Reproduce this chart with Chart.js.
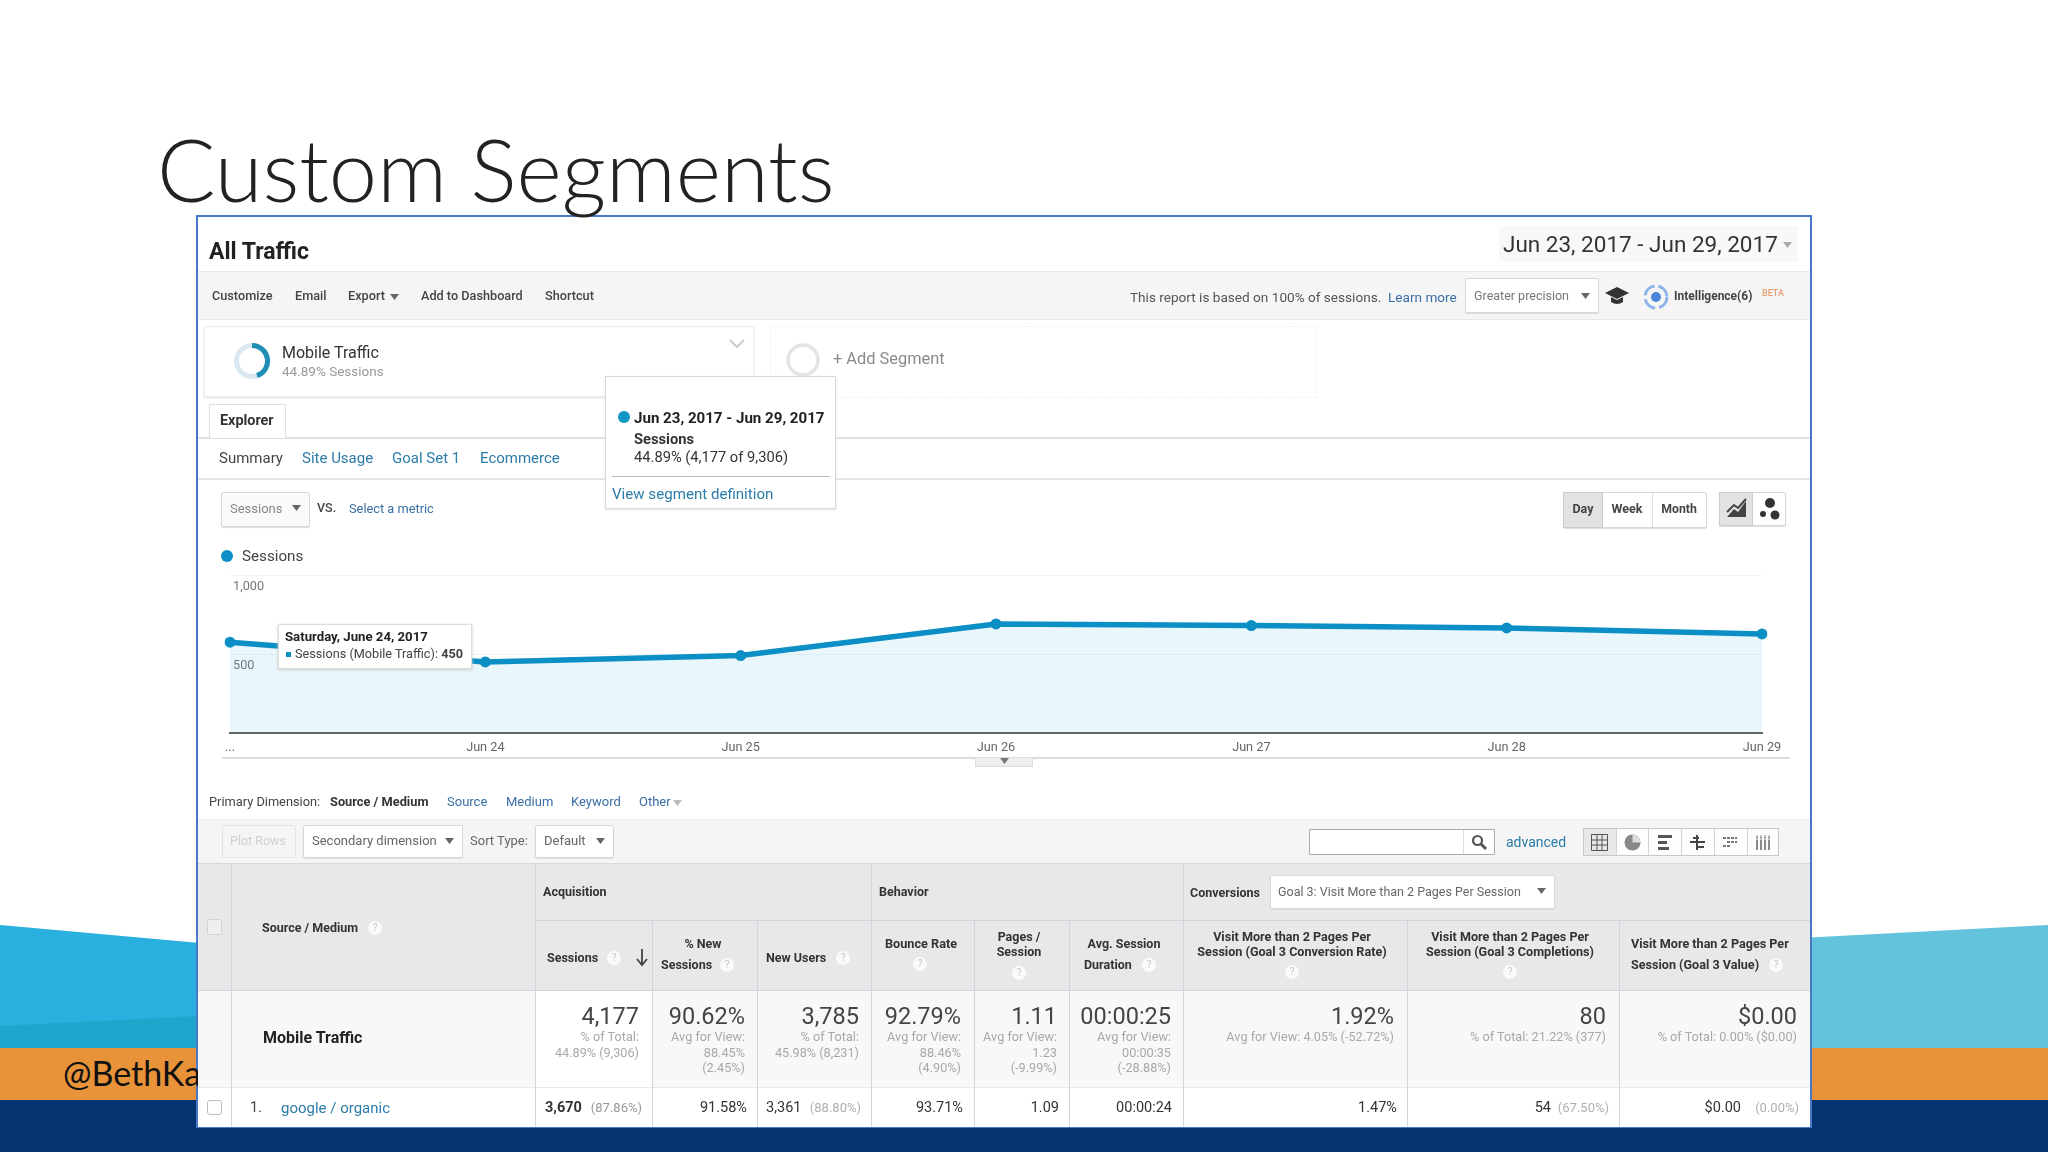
<!DOCTYPE html>
<html>
<head>
<meta charset="utf-8">
<script src="https://cdn.jsdelivr.net/npm/chart.js@4"></script>
<style>
  html, body { margin: 0; padding: 0; background: #fff; }
  #slide { position: absolute; left: 0; top: 0; width: 2048px; height: 1152px; overflow: hidden; background: #fff; font-family: Roboto, sans-serif; }
  #slide > svg.bg { position: absolute; left: 0; top: 0; }
  .t { position: absolute; white-space: nowrap; line-height: 20px; height: 20px; color: #333; }
  .box { position: absolute; box-sizing: border-box; }
  .ico { position: absolute; overflow: visible; }
  #overlay > * { filter: blur(0.4px); }
  #trafficCanvas { position: absolute; left: 198px; top: 560px; width: 1612px; height: 200px; filter: blur(0.4px); }
</style>
</head>
<body>
<div id="slide">
  <svg class="bg" width="2048" height="1152">
    <polygon points="0,925 200,943 200,1048 0,1048" fill="#29b0de"/>
    <polygon points="0,1026 200,1016 200,1048 0,1048" fill="#20a6cc"/>
    <polygon points="1800,938 2048,925 2048,1048 1800,1048" fill="#63c3dc"/>
    <rect x="0" y="1048" width="2048" height="52" fill="#e8923a"/>
    <rect x="0" y="1100" width="2048" height="52" fill="#03346f"/>
  </svg>
  <div id="panel" class="box" style="left:196px;top:215px;width:1616px;height:913px;background:#fff;border:2px solid #4a78c8"></div>
  <canvas id="trafficCanvas" width="1612" height="200"></canvas>
  <div id="overlay"></div>
</div>

<script>
// chart data
const days = ['...', 'Jun 24', 'Jun 25', 'Jun 26', 'Jun 27', 'Jun 28', 'Jun 29'];
const sessions = [575, 450, 490, 690, 680, 665, 627];
const yTicks = [500, 1000];

// table data
const totalValues = ['4,177', '90.62%', '3,785', '92.79%', '1.11', '00:00:25', '1.92%', '80', '$0.00'];
const totalNotes = [
  ['% of Total:', '44.89% (9,306)'],
  ['Avg for View:', '88.45%', '(2.45%)'],
  ['% of Total:', '45.98% (8,231)'],
  ['Avg for View:', '88.46%', '(4.90%)'],
  ['Avg for View:', '1.23', '(-9.99%)'],
  ['Avg for View:', '00:00:35', '(-28.88%)'],
  ['Avg for View: 4.05% (-52.72%)'],
  ['% of Total: 21.22% (377)'],
  ['% of Total: 0.00% ($0.00)']
];
const rowValues = ['91.58%', '93.71%', '1.09', '00:00:24', '1.47%'];

const BLUE = '#2b7ca8', LINK = '#3a6ea5', GREY = '#9c9c9c', LINE = '#d4d4d8';
const overlay = document.getElementById('overlay');

function t(text, x, y, size, o) {
  o = o || {};
  const el = document.createElement('div');
  el.className = 't';
  el.textContent = text;
  el.style.top = (y - 10) + 'px';
  if (o.right) el.style.right = (2048 - x) + 'px';
  else if (o.center) { el.style.left = x + 'px'; el.style.transform = 'translateX(-50%)'; }
  else el.style.left = x + 'px';
  el.style.fontSize = size + 'px';
  if (o.w) el.style.fontWeight = o.w;
  if (o.c) el.style.color = o.c;
  if (o.f) el.style.fontFamily = o.f;
  overlay.appendChild(el);
  return el;
}
function box(x, y, w, h, css) {
  const el = document.createElement('div');
  el.className = 'box';
  el.style.cssText = `left:${x}px;top:${y}px;width:${w}px;height:${h}px;${css || ''}`;
  overlay.appendChild(el);
  return el;
}
function svg(x, y, w, h, inner) {
  const el = document.createElementNS('http://www.w3.org/2000/svg', 'svg');
  el.setAttribute('class', 'ico');
  el.setAttribute('width', w);
  el.setAttribute('height', h);
  el.style.left = x + 'px';
  el.style.top = y + 'px';
  el.innerHTML = inner;
  overlay.appendChild(el);
}
function arrow(x, y, c) {
  svg(x - 5, y - 3, 10, 6, `<polygon points="0,0 9,0 4.5,6" fill="${c || '#666'}"/>`);
}
function help(x, y) {
  box(x - 7, y - 7, 14, 14, 'background:#fafafa;border-radius:50%');
  t('?', x, y, 10, { center: true, c: '#c4c4c4' });
}
function button(x, y, w, h, bg) {
  box(x, y, w, h, `background:${bg || '#fff'};border:1px solid #d8d8d8;border-radius:2px;box-shadow:0 1px 1px #ddd`);
}

// slide furniture, these two stay sharp
t('Custom Segments', 157, 168, 86.7, { f: 'Lato', w: 300, c: '#222' }).style.filter = 'none';
t('@BethKa', 63, 1073, 34, { f: 'Lato', c: '#111' }).style.filter = 'none';
box(198, 1040, 10, 70, 'background:#f8f8fa');

// report head
t('All Traffic', 209, 252, 23, { w: 700, c: '#222' });
box(1499, 226, 299, 36, 'background:#f8f8f8;border-radius:3px');
t('Jun 23, 2017 - Jun 29, 2017', 1503, 244, 22.5, { c: '#333' });
arrow(1788, 245, '#aaa');

box(198, 271, 1612, 49, 'background:#f5f5f6;border-top:1px solid #e8e8e8;border-bottom:1px solid #e8e8e8');
[['Customize', 212], ['Email', 295], ['Export', 348], ['Add to Dashboard', 421], ['Shortcut', 545]].forEach(a => t(a[0], a[1], 296, 12.7, { w: 500, c: '#444' }));
arrow(395, 297);
t('This report is based on 100% of sessions.', 1130, 297, 13.6, { c: '#555' });
t('Learn more', 1388, 297, 13.6, { c: LINK });
button(1465, 278, 134, 35);
t('Greater precision', 1474, 296, 12.5, { c: '#777' });
arrow(1586, 296);
svg(1605, 285, 24, 22, '<polygon points="12,2 24,8 12,14 0,8" fill="#333"/><path d="M6 12v5q6 4 12 0v-5l-6 3z" fill="#333"/>');
svg(1642, 283, 28, 28, '<circle cx="14" cy="14" r="11" fill="none" stroke="#8db4e8" stroke-width="3" stroke-dasharray="14 4"/><circle cx="14" cy="14" r="5" fill="#4a86d8"/>');
t('Intelligence(6)', 1674, 296, 12, { w: 700, c: '#444' });
t('BETA', 1762, 293, 9, { w: 500, c: '#e8a070' });

// segment cards
box(204, 326, 550, 71, 'background:#fff;border:1px solid #eee;box-shadow:0 1px 2px #ddd');
svg(233, 342, 38, 38, '<circle cx="19" cy="19" r="15.5" fill="none" stroke="#dce8f0" stroke-width="5"/><path d="M19 3.5A15.5 15.5 0 0 1 24 33.7" fill="none" stroke="#1f8fb8" stroke-width="5"/>');
t('Mobile Traffic', 282, 353, 16, { c: '#333' });
t('44.89% Sessions', 282, 371, 13.5, { c: '#999' });
svg(729, 339, 16, 10, '<path d="M1 1l7 7 7-7" fill="none" stroke="#ccc" stroke-width="2"/>');
box(770, 326, 546, 72, 'border:1px dashed #f2f2f2');
svg(785, 342, 36, 36, '<circle cx="18" cy="18" r="15" fill="none" stroke="#e4e4e4" stroke-width="3.5"/>');
t('+ Add Segment', 833, 359, 16.4, { c: '#8a8a8a' });

// tabs
box(198, 437, 1612, 2, 'background:#e0e0e0');
box(209, 404, 77, 34, 'background:#fff;border:1px solid #e0e0e0;border-bottom:none');
t('Explorer', 220, 421, 14.4, { w: 700, c: '#333' });
t('Summary', 219, 458, 15, { c: '#444' });
t('Site Usage', 302, 458, 15, { c: BLUE });
t('Goal Set 1', 392, 458, 15, { c: BLUE });
t('Ecommerce', 480, 458, 15, { c: BLUE });
box(198, 478, 1612, 2, 'background:#e4e4e4');

// popup over the tabs
box(605, 376, 231, 133, 'background:#fff;border:1px solid #d8d8d8;box-shadow:0 1px 2px #e4e4e4');
box(618, 411, 12, 12, 'background:#1096c4;border-radius:50%');
t('Jun 23, 2017 - Jun 29, 2017', 634, 418, 15.1, { w: 700, c: '#222' });
t('Sessions', 634, 439, 14.7, { w: 700, c: '#333' });
t('44.89% (4,177 of 9,306)', 634, 457, 14.7, { c: '#333' });
box(612, 476, 218, 1, 'background:#bbb');
t('View segment definition', 612, 494, 15.1, { c: BLUE });

// graph controls
button(221, 492, 89, 35, '#fafafa');
t('Sessions', 230, 509, 13, { c: '#888' });
arrow(297, 508);
t('VS.', 317, 508, 12.5, { w: 500, c: '#444' });
t('Select a metric', 349, 509, 12.8, { c: LINK });
button(1563, 492, 144, 36);
box(1563, 492, 40, 36, 'background:#e2e2e4;border:1px solid #ccc');
box(1652, 493, 1, 34, 'background:#ddd');
t('Day', 1583, 509, 12.5, { center: true, w: 700, c: '#444' });
t('Week', 1627, 509, 12.5, { center: true, w: 700, c: '#444' });
t('Month', 1679, 509, 12.3, { center: true, w: 700, c: '#444' });
button(1719, 492, 67, 34);
box(1719, 492, 34, 34, 'background:#e2e2e4;border:1px solid #ccc');
svg(1726, 498, 22, 22, '<path d="M1 19L8 11l4 3 8-11v16z" fill="#444"/><path d="M1 14L8 7l4 3 8-9" fill="none" stroke="#444" stroke-width="2"/>');
svg(1760, 497, 22, 24, '<circle cx="10" cy="6" r="5" fill="#333"/><circle cx="3" cy="17" r="3" fill="#333"/><circle cx="15" cy="18" r="4.5" fill="#333"/>');

// legend, axis rule and graph handle
box(221, 550, 12, 12, 'background:#0b8fc4;border-radius:50%');
t('Sessions', 242, 556, 15.2, { c: '#444' });
box(222, 757, 1568, 2, 'background:#dcdcdc');
box(975, 758, 58, 9, 'background:#eee;border:1px solid #ddd;border-top:none');
arrow(1005, 761, '#777');

// hover tooltip, sits over the canvas
box(278, 624, 194, 45, 'background:#fff;border:1px solid #ddd;box-shadow:0 1px 3px #ccc');
t('Saturday, June 24, 2017', 285, 637, 13.2, { w: 700, c: '#222' });
box(286, 652, 5, 5, 'background:#0b8fc4');
const tip = t('Sessions (Mobile Traffic): ', 295, 654, 12.7, { c: '#444' });
const tipValue = document.createElement('b');
tipValue.textContent = sessions[1];
tip.appendChild(tipValue);

// toolbar above the table
[['Source', 447], ['Medium', 506], ['Keyword', 571], ['Other', 639]].forEach(a => t(a[0], a[1], 802, 13, { c: LINK }));
t('Primary Dimension:', 209, 802, 12.8, { c: '#444' });
t('Source / Medium', 330, 802, 12.8, { w: 700, c: '#333' });
arrow(678, 803, '#bbb');
box(198, 819, 1612, 44, 'background:#f5f5f6;border-top:1px solid #eee');
box(222, 825, 74, 33, 'border:1px solid #e4e4e4;border-radius:2px');
t('Plot Rows', 230, 841, 12.5, { c: '#d0d0d0' });
button(303, 825, 160, 33);
t('Secondary dimension', 312, 841, 13, { c: '#666' });
arrow(450, 841);
t('Sort Type:', 470, 841, 13, { c: '#666' });
button(535, 825, 79, 33);
t('Default', 544, 841, 13, { c: '#666' });
arrow(601, 841);
box(1309, 829, 186, 26, 'background:#fff;border:1px solid #aaa;border-radius:1px');
box(1463, 830, 1, 24, 'background:#ddd');
svg(1471, 834, 16, 16, '<circle cx="6.5" cy="6.5" r="4.5" fill="none" stroke="#555" stroke-width="2.2"/><path d="M10 10l5 5" stroke="#555" stroke-width="3"/>');
t('advanced', 1506, 842, 14, { c: BLUE });
box(1583, 828, 196, 28, 'background:#fdfdfd;border:1px solid #c8c8c8');
box(1584, 829, 32, 26, 'background:#e8e8ea');
[1616, 1648, 1681, 1714, 1747].forEach(x => box(x, 829, 1, 26, 'background:#d4d4d4'));
svg(1591, 834, 17, 17, '<path d="M.5.5h16v16H.5zM.5 6h16M.5 11h16M6 .5v16M11 .5v16" fill="none" stroke="#555"/>');
svg(1624, 834, 17, 17, '<circle cx="8.5" cy="8.5" r="8" fill="#888"/><path d="M8.5 .5a8 8 0 0 1 8 8h-8z" fill="#ddd"/>');
svg(1658, 835, 14, 15, '<path d="M0 0h14v3H0zM0 6h9v3H0zM0 12h11v3H0z" fill="#555"/>');
svg(1690, 835, 15, 15, '<path d="M0 7h15M7 0v15M3 3h6M7 12h7" stroke="#444" stroke-width="2" fill="none"/>');
svg(1723, 836, 14, 13, '<path d="M0 2h14M4 6h10M0 10h8" stroke="#777" stroke-width="2" stroke-dasharray="3 1"/>');
svg(1756, 835, 15, 15, '<path d="M1 0v15M5 0v15M9 0v15M13 0v15" stroke="#666" stroke-width="1.5"/><path d="M0 1h15M0 4h15" stroke="#fdfdfd" stroke-width="1"/>');

// table frame
const colLines = [535, 652, 757, 871, 974, 1069, 1183, 1407, 1619];
const valueRight = [639, 745, 859, 961, 1057, 1171, 1394, 1606, 1797];

box(198, 863, 1612, 128, 'background:#e8e8ea');
box(198, 991, 1612, 96, 'background:#f8f8fa');
box(535, 991, 117, 96, 'background:#fff');
box(198, 1087, 1612, 40, 'background:#fff');
box(198, 863, 1612, 1, 'background:#d8d8d8');
box(535, 920, 1275, 1, `background:${LINE}`);
box(198, 990, 1612, 1, `background:${LINE}`);
box(198, 1087, 1612, 1, 'background:#e8e8ea');
box(231, 863, 1, 264, `background:${LINE}`);
colLines.forEach((x, i) => {
  const top = (i === 0 || i === 3 || i === 6) ? 863 : 920;
  box(x, top, 1, 1127 - top, `background:${LINE}`);
});
box(207, 919, 15, 16, 'background:#efeff1;border:1px solid #d4d4d4;border-radius:2px');
box(207, 1100, 15, 15, 'background:#fff;border:1.5px solid #bbb;border-radius:3px');

// table headers
const hd = { w: 700, c: '#333' };
const hdC = { center: true, w: 700, c: '#333' };
t('Source / Medium', 262, 928, 12.5, hd); help(375, 928);
t('Acquisition', 543, 892, 12.5, hd);
t('Behavior', 879, 892, 12.5, hd);
t('Conversions', 1190, 893, 12.5, hd);
button(1270, 875, 285, 34);
t('Goal 3: Visit More than 2 Pages Per Session', 1278, 892, 12.5, { c: '#666' });
arrow(1542, 891);
t('Sessions', 547, 958, 12.5, hd); help(614, 958);
svg(636, 949, 12, 18, '<path d="M6 0v15M1 10l5 6 5-6" fill="none" stroke="#444" stroke-width="1.8"/>');
t('% New', 703, 944, 12.5, hdC);
t('Sessions', 661, 965, 12.5, hd); help(727, 965);
t('New Users', 766, 958, 12.5, hd); help(843, 958);
t('Bounce Rate', 921, 944, 12.7, hdC); help(920, 964);
t('Pages /', 1019, 937, 12.5, hdC);
t('Session', 1019, 952, 12.5, hdC); help(1019, 973);
t('Avg. Session', 1124, 944, 12.5, hdC);
t('Duration', 1084, 965, 12.5, hd); help(1149, 965);
t('Visit More than 2 Pages Per', 1292, 937, 12.6, hdC);
t('Session (Goal 3 Conversion Rate)', 1292, 952, 12.6, hdC); help(1292, 972);
t('Visit More than 2 Pages Per', 1510, 937, 12.6, hdC);
t('Session (Goal 3 Completions)', 1510, 952, 12.6, hdC); help(1510, 972);
t('Visit More than 2 Pages Per', 1631, 944, 12.6, hd);
t('Session (Goal 3 Value)', 1631, 965, 12.6, hd); help(1776, 965);

// totals row
t('Mobile Traffic', 263, 1038, 16, { w: 700, c: '#222' });
totalValues.forEach((v, i) => {
  t(v, valueRight[i], 1016, 23.5, { right: true, c: '#444' });
  totalNotes[i].forEach((n, j) => t(n, valueRight[i], 1037 + j * 15.5, 12.7, { right: true, c: '#a8a8a8' }));
});

// first row
t('1.', 250, 1108, 14.5, { c: '#444' });
t('google / organic', 281, 1108, 15, { c: BLUE });
t('3,670', 545, 1108, 14.5, { w: 700, c: '#333' });
t('(87.86%)', 642, 1108, 13, { right: true, c: '#999' });
t('3,361', 766, 1108, 14.5, { c: '#333' });
t('(88.80%)', 861, 1108, 13, { right: true, c: '#b0b0b0' });
[747, 963, 1059, 1172, 1397].forEach((x, i) => t(rowValues[i], x, 1108, 14.5, { right: true, c: '#333' }));
t('54', 1551, 1108, 14.5, { right: true, c: '#333' });
t('(67.50%)', 1609, 1108, 13, { right: true, c: '#b0b0b0' });
t('$0.00', 1741, 1108, 14.5, { right: true, c: '#333' });
t('(0.00%)', 1799, 1108, 13, { right: true, c: '#b0b0b0' });

// the graph
const ctx = document.getElementById('trafficCanvas').getContext('2d');
new Chart(ctx, {
  type: 'line',
  data: {
    labels: days,
    datasets: [{
      label: 'Sessions',
      data: sessions,
      borderColor: '#0b8fc4',
      borderWidth: 5.5,
      backgroundColor: 'rgba(11,150,210,0.09)',
      fill: 'origin',
      tension: 0,
      pointRadius: 5.5,
      pointBackgroundColor: '#0b8fc4',
      pointBorderWidth: 0
    }]
  },
  options: {
    responsive: false,
    animation: false,
    layout: { padding: { left: 32, right: 48, top: 15, bottom: 0 } },
    plugins: { legend: { display: false }, tooltip: { enabled: false } },
    scales: {
      x: {
        grid: { display: false },
        border: { color: '#666', width: 2 },
        afterFit: s => { s.height = 27; },
        ticks: { autoSkip: false, maxRotation: 0, padding: -1, color: '#666', font: { family: 'Roboto', size: 12.7 } }
      },
      y: {
        min: 0,
        max: 1000,
        afterFit: s => { s.width = 0; },
        afterBuildTicks: s => { s.ticks = [0].concat(yTicks).map(v => ({ value: v })); },
        grid: { color: '#f4f4f4', drawTicks: false },
        border: { display: false },
        ticks: {
          mirror: true,
          padding: 3,
          labelOffset: 12,
          color: '#777',
          font: { family: 'Roboto', size: 12.7 },
          callback: v => v === 0 ? '' : v.toLocaleString('en-US')
        }
      }
    }
  }
});
</script>
</body>
</html>
